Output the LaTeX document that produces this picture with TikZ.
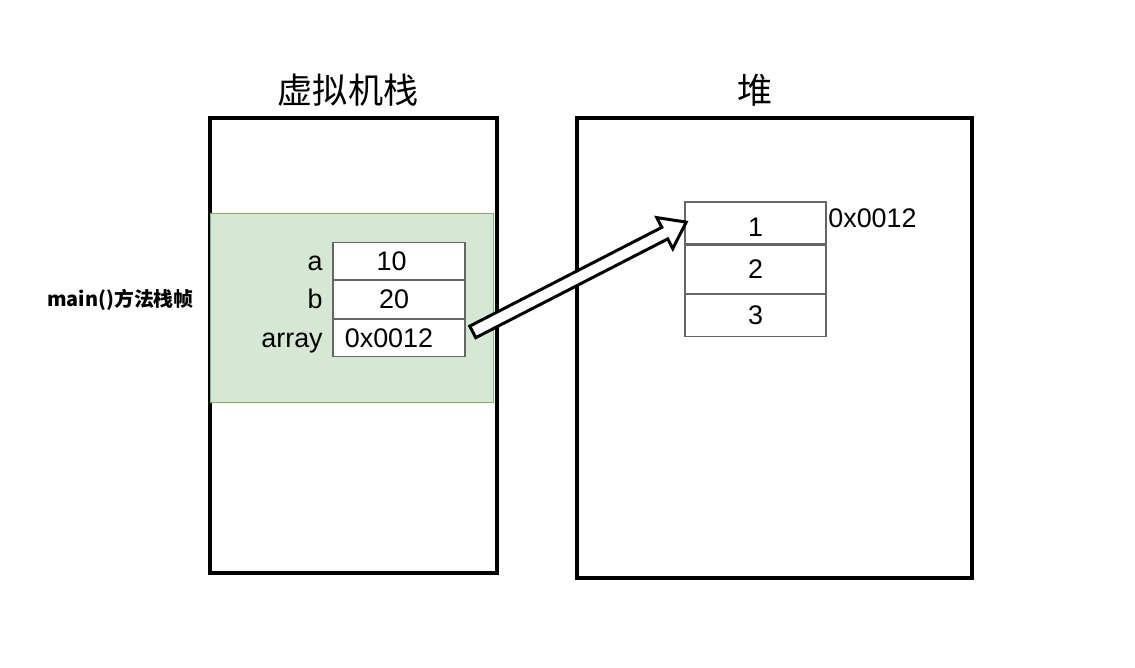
\documentclass[tikz,border=0pt]{standalone}
\usepackage{fontspec}
\setmainfont{Liberation Sans}
\newfontfamily\cjk{Noto Sans CJK SC}
\usetikzlibrary{positioning,shapes.arrows}

\definecolor{framegreen}{HTML}{D5E8D4}
\definecolor{frameedge}{HTML}{82B366}
\definecolor{celledge}{HTML}{666666}

\begin{document}
\begin{tikzpicture}[
    area/.style={draw, line width=2pt},
    cell/.style={draw=celledge, line width=0.6pt, fill=white, inner sep=0pt,
        font=\fontsize{15.3}{17}\selectfont},
    varname/.style={anchor=base east, inner sep=0pt, font=\fontsize{15.3}{17}\selectfont},
    title/.style={font=\cjk\fontsize{20}{22}\selectfont}
    ]

    \useasboundingbox (0,0) rectangle (22.7,13.34);

    %stack and heap:
    \node[area, minimum width=5.74cm, minimum height=9.1cm] (stack) at (7.07,6.43) {};
    \node[area, minimum width=7.9cm, minimum height=9.2cm] (heap) at (15.49,6.38) {};
    \node[title] (stacktitle) at (6.96,11.54) {虚拟机栈};
    \node[title] (heaptitle) at (15.1,11.54) {堆};

    %stack frame of main():
    \node[fill=framegreen, draw=frameedge, line width=0.4pt,
        minimum width=5.66cm, minimum height=3.78cm] (frame) at (7.03,7.19) {};
    \node[font=\cjk\bfseries\fontsize{11.3}{13}\selectfont] (framename) at (2.41,7.34) {main()方法栈帧};

    %local variables:
    \node[cell, minimum width=2.64cm, minimum height=0.75cm] (a) at (7.98,8.12) {\hspace*{-0.3cm}10};
    \node[cell, minimum width=2.64cm, minimum height=0.75cm, below=0pt of a] (b) {\hspace*{-0.2cm}20};
    \node[cell, minimum width=2.64cm, minimum height=0.75cm, below=0pt of b] (arr) {\hspace*{-0.4cm}0x0012};
    \node[varname] (aname) at (6.46,8.12 |- a.base) {a};
    \node[varname] (bname) at (6.46,7.37 |- b.base) {b};
    \node[varname] (arrname) at (6.46,6.62 |- arr.base) {array};

    %array object:
    \node[cell, minimum width=2.82cm, minimum height=0.84cm] (h1) at (15.11,8.88) {\smash{\raisebox{-0.28cm}{1}}};
    \node[cell, minimum width=2.82cm, minimum height=0.96cm, below=0pt of h1] (h2) {2};
    \node[cell, minimum width=2.82cm, minimum height=0.84cm, below=0pt of h2] (h3) {3};
    \node[anchor=west, inner sep=0pt, font=\fontsize{15.3}{17}\selectfont] (addr) at (16.56,8.98) {0x0012};

    %reference:
    \path ([xshift=0.02cm,yshift=0.06cm]arr.east) -- (h1.west)
        node[midway, sloped, single arrow, draw, line width=1.7pt, fill=white,
        inner sep=0.1cm, minimum height=4.8cm, single arrow head extend=0.22cm,
        single arrow tip angle=72] (ref) {};

\end{tikzpicture}
\end{document}
